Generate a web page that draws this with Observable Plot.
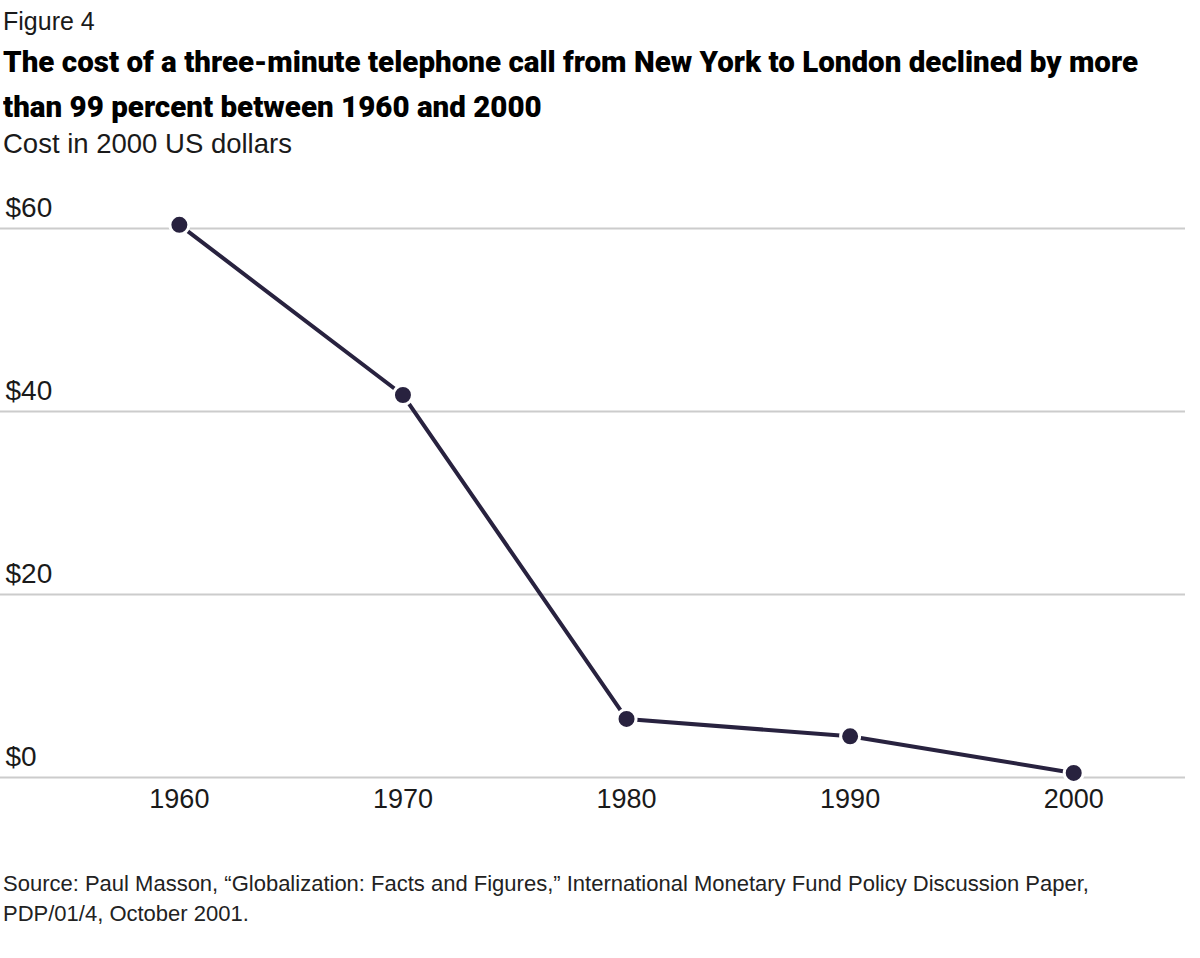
<!DOCTYPE html>
<html>
<head>
<meta charset="utf-8">
<script src="https://cdn.jsdelivr.net/npm/d3@7"></script>
<script src="https://cdn.jsdelivr.net/npm/@observablehq/plot@0.6"></script>
<style>
  html, body { margin: 0; padding: 0; background: #fff; }
  #root { position: relative; width: 1200px; height: 958px; background: #fff; font-family: "Liberation Sans", Arial, sans-serif; color: #1a1a1a; overflow: hidden; }
  .t { position: absolute; left: 3px; line-height: 1; white-space: nowrap; }
  #fig { top: 9px; font-size: 25px; }
  .title { font-family: Roboto, "Liberation Sans", sans-serif; font-weight: 900; font-size: 29px; color: #000; transform-origin: 0 0; }
  #t1 { top: 48px; }
  #t2 { top: 93px; }
  #sub { top: 130px; font-size: 27.5px; }
  .cap { font-size: 22px; color: #222; }
  #c1 { top: 873px; }
  #c2 { top: 903px; }
  #chart { position: absolute; left: 0; top: 180px; }
</style>
</head>
<body>
<div id="root">
  <div class="t" id="fig">Figure 4</div>
  <div class="t title" id="t1">The cost of a three-minute telephone call from New York to London declined by more</div>
  <div class="t title" id="t2">than 99 percent between 1960 and 2000</div>
  <div class="t" id="sub">Cost in 2000 US dollars</div>
  <div id="chart"></div>
  <div class="t cap" id="c1">Source: Paul Masson, “Globalization: Facts and Figures,” International Monetary Fund Policy Discussion Paper,</div>
  <div class="t cap" id="c2">PDP/01/4, October 2001.</div>
</div>
<script>
const years = [1960, 1970, 1980, 1990, 2000];
const costs = [60.4, 41.8, 6.4, 4.5, 0.5];
const yTicks = [0, 20, 40, 60];
const yTickLabels = ["$0", "$20", "$40", "$60"];

const data = years.map((year, i) => ({year, cost: costs[i]}));
const yLabelData = yTicks.map((v, i) => ({v, label: yTickLabels[i]}));

const chart = Plot.plot({
  width: 1200,
  height: 660,
  marginLeft: 0,
  marginRight: 15,
  marginTop: 48,
  marginBottom: 63,
  style: {fontFamily: "'Liberation Sans', Arial, sans-serif", fontSize: "27px", color: "#1a1a1a", background: "transparent"},
  x: {domain: [1952, 2005], label: null},
  y: {domain: [0, 60], axis: null},
  marks: [
    Plot.ruleY(yTicks, {stroke: "#cccccc", strokeWidth: 2}),
    Plot.text(yLabelData, {y: "v", text: "label", frameAnchor: "left", textAnchor: "start", dx: 5, dy: -12, lineAnchor: "bottom", fontSize: 28, fill: "#1a1a1a"}),
    Plot.axisX({ticks: years, tickFormat: d => String(d), tickSize: 0, tickPadding: 11, fontSize: 27, fill: "#1a1a1a", label: null}),
    Plot.line(data, {x: "year", y: "cost", stroke: "#28223f", strokeWidth: 4}),
    Plot.dot(data, {x: "year", y: "cost", r: 9.5, fill: "#28223f", stroke: "white", strokeWidth: 3})
  ]
});
document.getElementById("chart").appendChild(chart);

// Scale the bold title horizontally so line 1 spans the reference width
const t1 = document.getElementById("t1");
const t2 = document.getElementById("t2");
const w = t1.getBoundingClientRect().width;
const s = 1135 / w;
t1.style.transform = `scaleX(${s})`;
t2.style.transform = `scaleX(${s})`;
</script>
</body>
</html>
